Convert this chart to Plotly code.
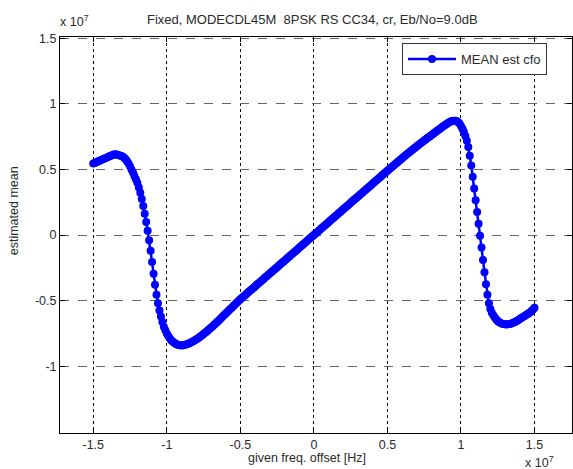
import plotly.graph_objects as go

# given frequency offset, units of 1e7 Hz; each segment starts at a given offset, step 0.01
seg_starts = [-1.50, -1.00, -0.50, 0.00, 0.50, 1.00]

seg1 = [0.545, 0.550, 0.555, 0.560, 0.565, 0.570, 0.575, 0.580, 0.585, 0.590,
        0.595, 0.600, 0.605, 0.610, 0.613, 0.615, 0.613, 0.610, 0.607, 0.603,
        0.598, 0.590, 0.578, 0.563, 0.545, 0.524, 0.500, 0.476, 0.450, 0.425,
        0.398, 0.362, 0.322, 0.275, 0.222, 0.163, 0.100, 0.032, -0.040, -0.120,
        -0.205, -0.295, -0.380, -0.455, -0.520, -0.575, -0.622, -0.663, -0.700, -0.727]
seg2 = [-0.752, -0.771, -0.788, -0.802, -0.813, -0.822, -0.829, -0.835, -0.839, -0.841,
        -0.842, -0.841, -0.839, -0.836, -0.832, -0.827, -0.822, -0.816, -0.810, -0.803,
        -0.796, -0.789, -0.781, -0.773, -0.764, -0.755, -0.746, -0.737, -0.727, -0.717,
        -0.707, -0.697, -0.687, -0.676, -0.666, -0.655, -0.644, -0.633, -0.622, -0.611,
        -0.600, -0.589, -0.578, -0.567, -0.556, -0.545, -0.534, -0.523, -0.512, -0.501]
seg3 = [-0.490, -0.480, -0.470, -0.461, -0.451, -0.441, -0.431, -0.421, -0.412, -0.402,
        -0.392, -0.382, -0.372, -0.363, -0.353, -0.343, -0.333, -0.323, -0.314, -0.304,
        -0.294, -0.284, -0.274, -0.265, -0.255, -0.245, -0.235, -0.225, -0.216, -0.206,
        -0.196, -0.186, -0.176, -0.167, -0.157, -0.147, -0.137, -0.127, -0.118, -0.108,
        -0.098, -0.088, -0.078, -0.069, -0.059, -0.049, -0.039, -0.029, -0.020, -0.010]
seg4 = [0.000, 0.010, 0.020, 0.029, 0.039, 0.049, 0.059, 0.069, 0.078, 0.088,
        0.098, 0.108, 0.118, 0.127, 0.137, 0.147, 0.157, 0.167, 0.176, 0.186,
        0.196, 0.206, 0.216, 0.225, 0.235, 0.245, 0.255, 0.265, 0.274, 0.284,
        0.294, 0.304, 0.314, 0.323, 0.333, 0.343, 0.353, 0.363, 0.372, 0.382,
        0.392, 0.402, 0.412, 0.421, 0.431, 0.441, 0.451, 0.461, 0.470, 0.480]
seg5 = [0.490, 0.500, 0.510, 0.519, 0.529, 0.538, 0.548, 0.557, 0.566, 0.576,
        0.585, 0.594, 0.604, 0.613, 0.623, 0.632, 0.641, 0.650, 0.659, 0.668,
        0.677, 0.686, 0.694, 0.703, 0.711, 0.720, 0.728, 0.737, 0.745, 0.754,
        0.762, 0.771, 0.779, 0.788, 0.796, 0.805, 0.813, 0.821, 0.829, 0.837,
        0.845, 0.852, 0.859, 0.865, 0.869, 0.872, 0.872, 0.869, 0.862, 0.850]
seg6 = [0.832, 0.810, 0.785, 0.755, 0.718, 0.672, 0.605, 0.530, 0.445, 0.355,
        0.265, 0.175, 0.085, -0.005, -0.095, -0.190, -0.285, -0.375, -0.455, -0.520,
        -0.565, -0.592, -0.612, -0.630, -0.645, -0.656, -0.665, -0.671, -0.676, -0.679,
        -0.681, -0.682, -0.681, -0.679, -0.676, -0.672, -0.667, -0.661, -0.655, -0.648,
        -0.640, -0.633, -0.626, -0.619, -0.612, -0.605, -0.598, -0.590, -0.580, -0.568,
        -0.555]
segments = [seg1, seg2, seg3, seg4, seg5, seg6]

x_ticks = [-1.5, -1, -0.5, 0, 0.5, 1, 1.5]
x_ticklabels = ["-1.5", "-1", "-0.5", "0", "0.5", "1", "1.5"]
y_ticks = [-1, -0.5, 0, 0.5, 1, 1.5]
y_ticklabels = ["-1", "-0.5", "0", "0.5", "1", "1.5"]

offset = []
mean_est = []
for start, seg in zip(seg_starts, segments):
    for i, v in enumerate(seg):
        offset.append(round(start + 0.01 * i, 2))
        mean_est.append(v)

FONT = "Liberation Sans, Arial, sans-serif"
TXT = "#2a2a2a"
FS = 12.5

fig = go.Figure()
fig.add_trace(go.Scatter(
    x=offset, y=mean_est, mode="lines+markers", name="MEAN est cfo",
    line=dict(color="#0000ff", width=2.5),
    marker=dict(color="#0000ff", size=8, symbol="circle"),
))

axis_common = dict(
    showline=True, linecolor="#000000", linewidth=1, mirror="ticks",
    ticks="inside", ticklen=5, tickcolor="#000000", zeroline=False,
    showgrid=True, tickfont=dict(family=FONT, size=FS, color=TXT),
)
fig.update_xaxes(range=[-1.726, 1.755], tickvals=x_ticks, ticktext=x_ticklabels,
                 gridcolor="#000000", griddash="dot", gridwidth=1, **axis_common)
fig.update_yaxes(range=[-1.51, 1.51], tickvals=y_ticks, ticktext=y_ticklabels,
                 gridcolor="#666666", griddash="dash", gridwidth=1, **axis_common)

fig.update_layout(
    width=573, height=469,
    margin=dict(l=60, r=1, t=37, b=36),
    paper_bgcolor="#ffffff", plot_bgcolor="#ffffff",
    font=dict(family=FONT, size=FS, color=TXT),
    showlegend=True,
    legend=dict(x=0.668, y=0.985, xanchor="left", yanchor="top",
                bgcolor="#ffffff", bordercolor="#333333", borderwidth=1,
                font=dict(family=FONT, size=FS + 0.5, color=TXT), itemwidth=48),
    annotations=[
        dict(text="Fixed, MODECDL45M  8PSK RS CC34, cr, Eb/No=9.0dB",
             xref="paper", yref="paper", x=0.494, y=1.0, yshift=18,
             xanchor="center", yanchor="middle", showarrow=False,
             font=dict(family=FONT, size=FS + 0.5, color=TXT)),
        dict(text="x 10<sup>7</sup>", xref="paper", yref="paper",
             x=-0.004, y=1.0, yshift=16, xanchor="left", yanchor="middle",
             showarrow=False, font=dict(family=FONT, size=FS, color=TXT)),
        dict(text="x 10<sup>7</sup>", xref="paper", yref="paper",
             x=0.905, y=0.0, yshift=-29, xanchor="left", yanchor="middle",
             showarrow=False, font=dict(family=FONT, size=FS, color=TXT)),
        dict(text="given freq. offset [Hz]", xref="paper", yref="paper",
             x=0.482, y=0.0, yshift=-25, xanchor="center", yanchor="middle",
             showarrow=False, font=dict(family=FONT, size=FS, color=TXT)),
        dict(text="estimated mean", xref="paper", yref="paper",
             x=0.0, y=0.56, xshift=-46, xanchor="center", yanchor="middle",
             textangle=-90, showarrow=False,
             font=dict(family=FONT, size=FS, color=TXT)),
    ],
)

fig.write_html("out.html")
